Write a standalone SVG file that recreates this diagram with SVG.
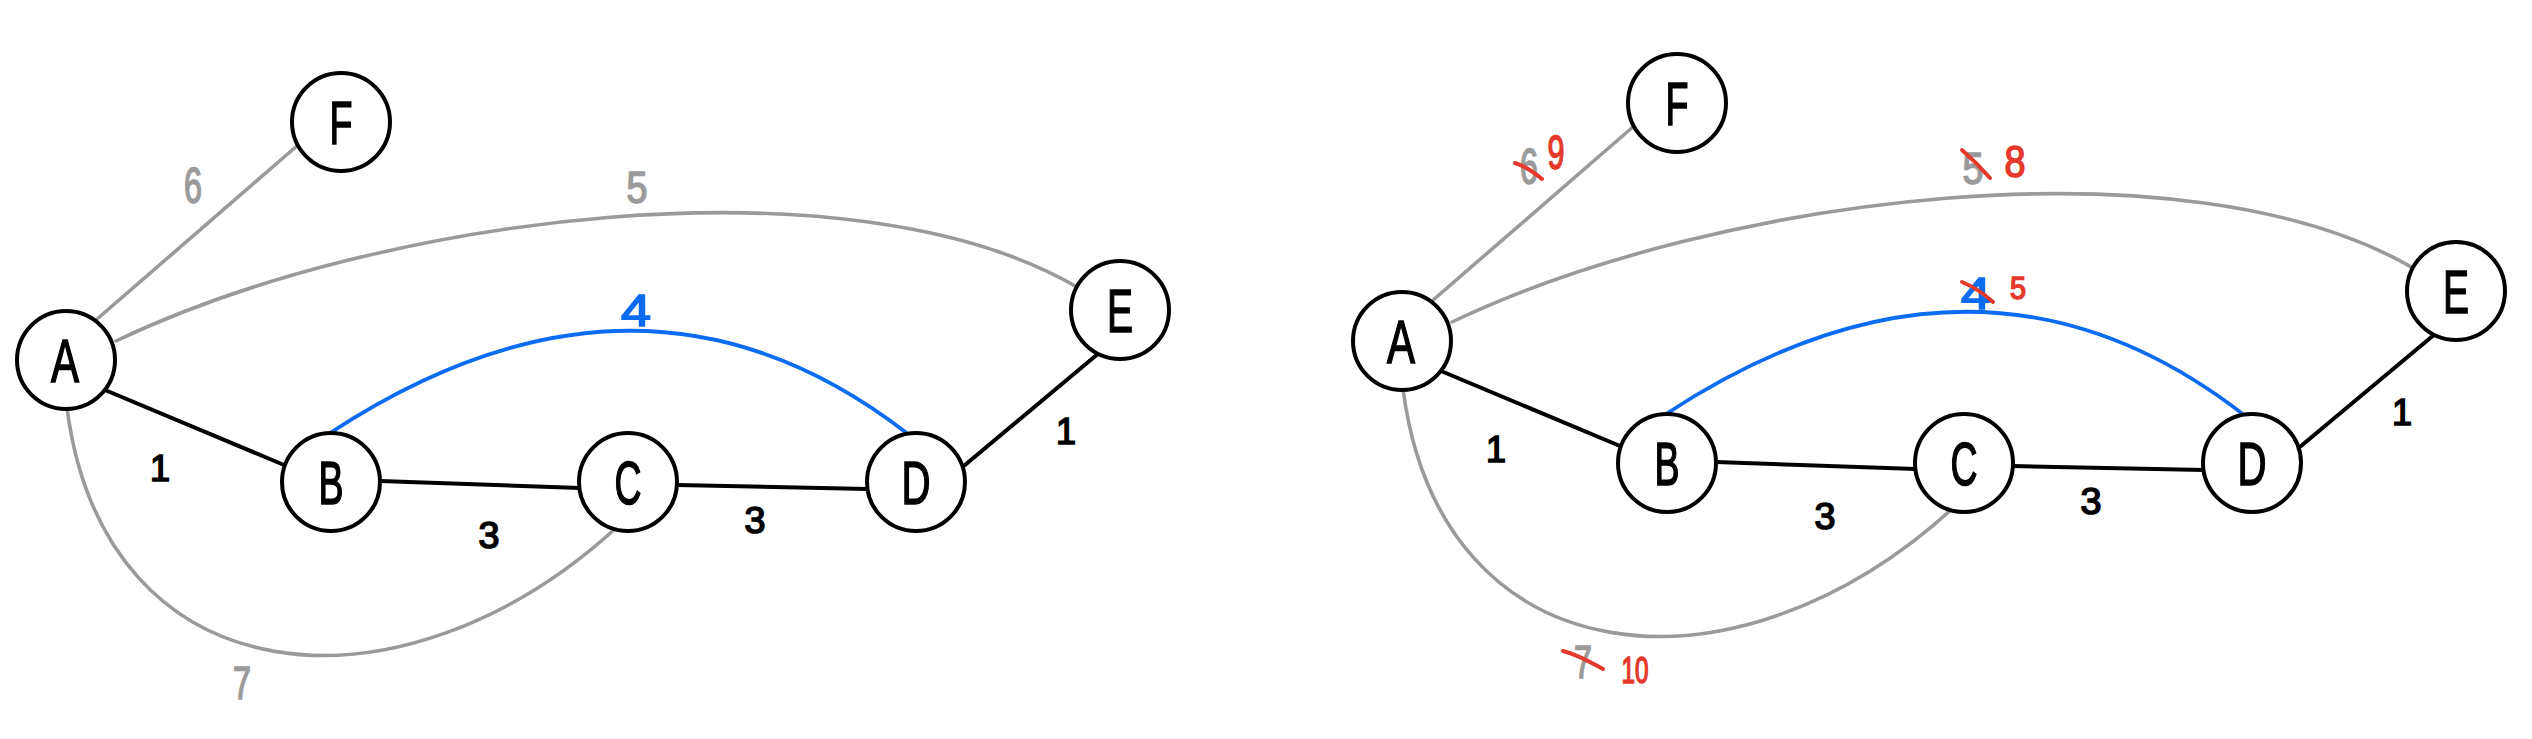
<svg xmlns="http://www.w3.org/2000/svg" width="2532" height="739" viewBox="0 0 2532 739">
<style>
.node circle{fill:#ffffff;stroke:#000000;stroke-width:4}
.node text{font-family:"Liberation Sans",sans-serif;font-size:62px;fill:#000000;stroke:#000000;stroke-width:1.6;text-anchor:middle;dominant-baseline:central}
.e{fill:none;stroke-linecap:round}
.blk{stroke:#000000;stroke-width:4}
.gry{stroke:#9a9a9a;stroke-width:3.6}
.blu{stroke:#0b6cf2;stroke-width:3.8}
.lbl{font-family:"Liberation Sans",sans-serif;text-anchor:middle;dominant-baseline:central;stroke-width:1.6}
.lk{fill:#000000;stroke:#000000}
.lg{fill:#9a9a9a;stroke:#9a9a9a}
.lb{fill:#0b6cf2;stroke:#0b6cf2}
.lr{fill:#e5392b;stroke:#e5392b}
.strike{fill:none;stroke:#e5392b;stroke-width:4;stroke-linecap:round}
</style>
<defs>
<g id="edges">
<path class="e gry" d="M96,320 L298,145"/>
<path class="e gry" d="M116,341 C380,215 850,155 1077,287"/>
<path class="e gry" d="M67,408 C105,700 400,725 616,528"/>
<path class="e blu" d="M330,433 Q643,228 908,434"/>
<path class="e blk" d="M105,390 L284,465"/>
<path class="e blk" d="M380,481 L580,488"/>
<path class="e blk" d="M677,485 L868,489"/>
<path class="e blk" d="M965,465 L1099,353"/>
</g>
</defs>
<!-- Left graph -->
<g id="left-graph">
<g id="connectors-left"><use href="#edges"/></g>
<g id="left-A" class="node"><circle cx="66" cy="360" r="49"/><text x="65" y="360" textLength="28" lengthAdjust="spacingAndGlyphs">A</text></g>
<g id="left-F" class="node"><circle cx="341" cy="122" r="49"/><text x="341" y="122" textLength="23" lengthAdjust="spacingAndGlyphs">F</text></g>
<g id="left-B" class="node"><circle cx="331" cy="482" r="49"/><text x="331" y="482" textLength="25" lengthAdjust="spacingAndGlyphs">B</text></g>
<g id="left-C" class="node"><circle cx="628" cy="482" r="49"/><text x="628" y="482" textLength="27" lengthAdjust="spacingAndGlyphs">C</text></g>
<g id="left-D" class="node"><circle cx="916" cy="482" r="49"/><text x="916" y="482" textLength="29" lengthAdjust="spacingAndGlyphs">D</text></g>
<g id="left-E" class="node"><circle cx="1120" cy="310" r="49"/><text x="1120" y="310" textLength="26" lengthAdjust="spacingAndGlyphs">E</text></g>
<g id="labels-left">
<text class="lbl lg" x="193" y="186" font-size="50" textLength="18" lengthAdjust="spacingAndGlyphs">6</text>
<text class="lbl lg" x="637" y="187" font-size="44" textLength="21" lengthAdjust="spacingAndGlyphs">5</text>
<text class="lbl lb" x="636" y="310" font-size="44" textLength="30" lengthAdjust="spacingAndGlyphs">4</text>
<text class="lbl lk" x="160" y="468" font-size="36">1</text>
<text class="lbl lk" x="489" y="535" font-size="36" textLength="21" lengthAdjust="spacingAndGlyphs">3</text>
<text class="lbl lk" x="755" y="520" font-size="36" textLength="21" lengthAdjust="spacingAndGlyphs">3</text>
<text class="lbl lk" x="1066" y="431" font-size="36">1</text>
<text class="lbl lg" x="242" y="683" font-size="46" textLength="18" lengthAdjust="spacingAndGlyphs">7</text>
</g>
</g>
<!-- Right graph -->
<g id="right-graph" transform="translate(1336,-19)">
<g id="connectors-right"><use href="#edges"/></g>
<g id="right-A" class="node"><circle cx="66" cy="360" r="49"/><text x="65" y="360" textLength="28" lengthAdjust="spacingAndGlyphs">A</text></g>
<g id="right-F" class="node"><circle cx="341" cy="122" r="49"/><text x="341" y="122" textLength="23" lengthAdjust="spacingAndGlyphs">F</text></g>
<g id="right-B" class="node"><circle cx="331" cy="482" r="49"/><text x="331" y="482" textLength="25" lengthAdjust="spacingAndGlyphs">B</text></g>
<g id="right-C" class="node"><circle cx="628" cy="482" r="49"/><text x="628" y="482" textLength="27" lengthAdjust="spacingAndGlyphs">C</text></g>
<g id="right-D" class="node"><circle cx="916" cy="482" r="49"/><text x="916" y="482" textLength="29" lengthAdjust="spacingAndGlyphs">D</text></g>
<g id="right-E" class="node"><circle cx="1120" cy="310" r="49"/><text x="1120" y="310" textLength="26" lengthAdjust="spacingAndGlyphs">E</text></g>
<g id="labels-right">
<text class="lbl lg" x="193" y="186" font-size="50" textLength="18" lengthAdjust="spacingAndGlyphs">6</text>
<text class="lbl lg" x="637" y="187" font-size="44" textLength="21" lengthAdjust="spacingAndGlyphs">5</text>
<text class="lbl lb" x="640" y="312" font-size="44" textLength="30" lengthAdjust="spacingAndGlyphs">4</text>
<text class="lbl lk" x="160" y="468" font-size="36">1</text>
<text class="lbl lk" x="489" y="535" font-size="36" textLength="21" lengthAdjust="spacingAndGlyphs">3</text>
<text class="lbl lk" x="755" y="520" font-size="36" textLength="21" lengthAdjust="spacingAndGlyphs">3</text>
<text class="lbl lk" x="1066" y="431" font-size="36">1</text>
<text class="lbl lg" x="247" y="681" font-size="46" textLength="18" lengthAdjust="spacingAndGlyphs">7</text>
<path class="strike" d="M179,182 Q192,186 206,198"/>
<path class="strike" d="M626,169 Q641,182 654,197"/>
<path class="strike" d="M626,301 Q643,308 657,321"/>
<path class="strike" d="M227,670 Q240,673 267,688"/>
<text class="lbl lr" x="220" y="171" font-size="48" textLength="17" lengthAdjust="spacingAndGlyphs">9</text>
<text class="lbl lr" x="679" y="180" font-size="44" textLength="21" lengthAdjust="spacingAndGlyphs">8</text>
<text class="lbl lr" x="682" y="307" font-size="32" textLength="16" lengthAdjust="spacingAndGlyphs">5</text>
<text class="lbl lr" x="299" y="689" font-size="36" textLength="27" lengthAdjust="spacingAndGlyphs">10</text>
</g>
</g>
</svg>
